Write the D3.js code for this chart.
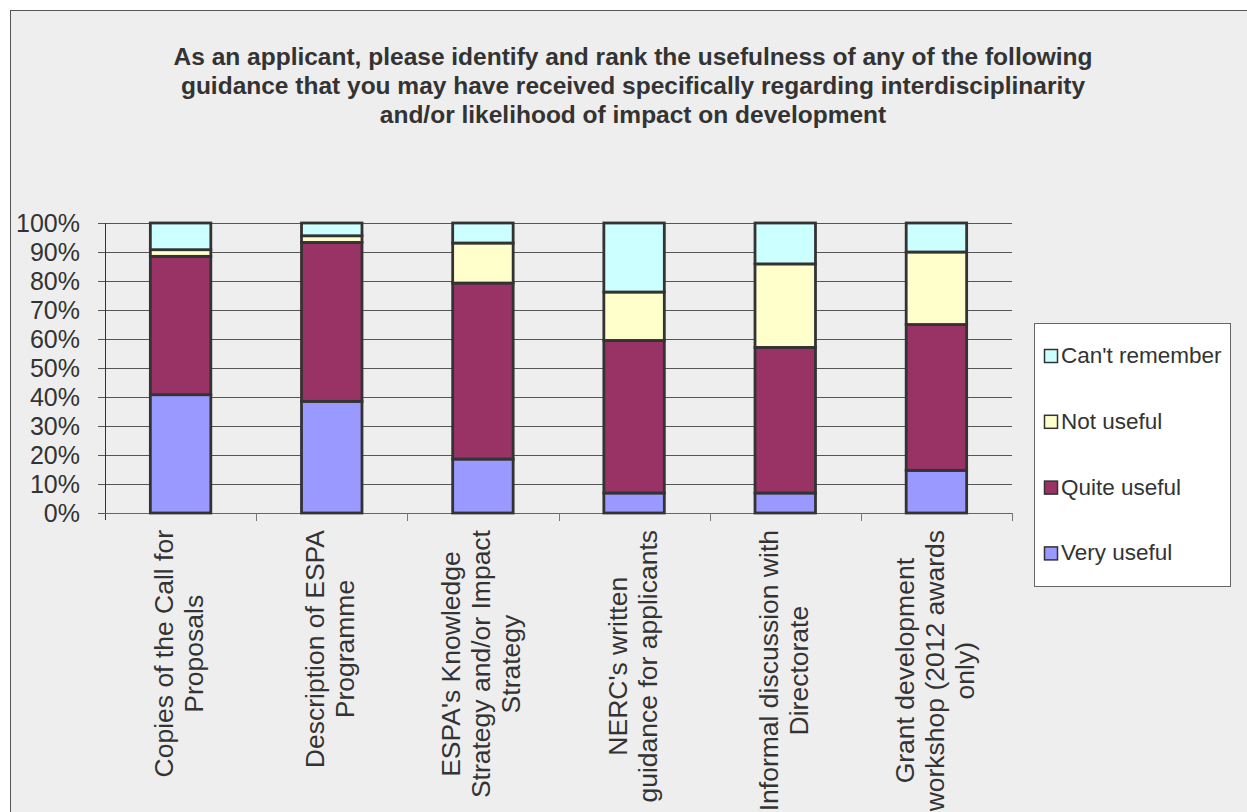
<!DOCTYPE html>
<html>
<head>
<meta charset="utf-8">
<script src="https://cdn.jsdelivr.net/npm/d3@7"></script>
<style>
  body { margin: 0; background: #fff; }
  svg { display: block; font-family: "Liberation Sans", Arial, sans-serif; }
</style>
</head>
<body>
<svg id="chart" width="1247" height="812"></svg>
<script>
// data (percent of respondents)
const categories = [
  ["Copies of the Call for", "Proposals"],
  ["Description of ESPA", "Programme"],
  ["ESPA's Knowledge", "Strategy and/or Impact", "Strategy"],
  ["NERC's written", "guidance for applicants"],
  ["Informal discussion with", "Directorate"],
  ["Grant development", "workshop (2012 awards", "only)"]
];
const veryUseful = [40.8, 38.5, 18.6, 6.9, 6.9, 14.7];
const quiteUseful = [47.7, 54.8, 60.7, 52.6, 50.2, 50.3];
const notUseful = [2.3, 2.3, 13.8, 16.7, 28.8, 25.0];
const cantRemember = [9.2, 4.4, 6.9, 23.8, 14.1, 10.0];
const seriesNames = ["Very useful", "Quite useful", "Not useful", "Can't remember"];
const seriesColors = ["#9999ff", "#993366", "#ffffcc", "#ccffff"];
const yTicks = [0, 10, 20, 30, 40, 50, 60, 70, 80, 90, 100];
const titleLines = [
  "As an applicant, please identify and rank the usefulness of any of the following",
  "guidance that you may have received specifically regarding interdisciplinarity",
  "and/or likelihood of impact on development"
];

const svg = d3.select('#chart');

// chart frame
svg.append('rect')
  .attr('x', 10.5).attr('y', 10.5)
  .attr('width', 1400).attr('height', 1000)
  .attr('fill', '#eeeeee').attr('stroke', '#555');

// title
svg.append('text')
  .attr('x', 633).attr('y', 65)
  .attr('text-anchor', 'middle')
  .attr('font-size', 24.5).attr('font-weight', 'bold').attr('fill', '#333')
  .selectAll('tspan').data(titleLines).enter().append('tspan')
  .attr('x', 633).attr('dy', (d, i) => i === 0 ? 0 : 29)
  .text(d => d);

const plotLeft = 105, plotRight = 1012, plotTop = 223, plotBottom = 513;
const idx = categories.map((d, i) => i);

const x = d3.scaleBand().domain(idx).range([plotLeft, plotRight])
  .paddingInner(0.6).paddingOuter(0.3);
const y = d3.scaleLinear().domain([0, 100]).range([plotBottom, plotTop]);

// gridlines
svg.append('g').selectAll('line').data(yTicks).enter().append('line')
  .attr('x1', plotLeft - 7).attr('x2', plotRight)
  .attr('y1', d => Math.round(y(d)) + 0.5).attr('y2', d => Math.round(y(d)) + 0.5)
  .attr('stroke', '#555').attr('stroke-width', 1);

// y axis labels
svg.append('g').selectAll('text').data(yTicks).enter().append('text')
  .attr('x', 80).attr('y', d => y(d))
  .attr('dy', '0.36em')
  .attr('text-anchor', 'end')
  .attr('font-size', 25).attr('fill', '#333')
  .text(d => d + '%');

// axis lines
svg.append('line')
  .attr('x1', plotLeft + 0.5).attr('x2', plotLeft + 0.5)
  .attr('y1', plotTop).attr('y2', plotBottom + 7)
  .attr('stroke', '#333');
svg.append('line')
  .attr('x1', plotLeft).attr('x2', plotRight)
  .attr('y1', plotBottom + 0.5).attr('y2', plotBottom + 0.5)
  .attr('stroke', '#666');
const step = x.step();
svg.append('g').selectAll('line').data(d3.range(1, categories.length + 1)).enter().append('line')
  .attr('x1', d => Math.round(plotLeft + d * step) + 0.5)
  .attr('x2', d => Math.round(plotLeft + d * step) + 0.5)
  .attr('y1', plotBottom).attr('y2', plotBottom + 8)
  .attr('stroke', '#777');

// stacked bars
const table = idx.map(i => ({
  i: i,
  "Very useful": veryUseful[i],
  "Quite useful": quiteUseful[i],
  "Not useful": notUseful[i],
  "Can't remember": cantRemember[i]
}));
const stacked = d3.stack().keys(seriesNames)(table);
const color = d3.scaleOrdinal().domain(seriesNames).range(seriesColors);

svg.append('g').selectAll('g').data(stacked).enter().append('g')
  .attr('fill', d => color(d.key))
  .selectAll('rect').data(d => d).enter().append('rect')
  .attr('x', d => x(d.data.i))
  .attr('y', d => y(d[1]))
  .attr('width', x.bandwidth())
  .attr('height', d => y(d[0]) - y(d[1]))
  .attr('stroke', '#333').attr('stroke-width', 2.8);

// category labels, rotated, lines centred on each other
const labelSize = 26.5, lineGap = 30, labelTop = 530;
const labels = svg.append('g');
categories.forEach((lines, i) => {
  const cx = x(i) + x.bandwidth() / 2;
  const g = labels.append('g');
  const texts = lines.map((line, j) => g.append('text')
    .attr('font-size', labelSize).attr('fill', '#333')
    .attr('text-anchor', 'middle')
    .text(line));
  const maxLen = d3.max(texts, t => t.node().getComputedTextLength());
  const cy = labelTop + maxLen / 2;
  texts.forEach((t, j) => {
    const bx = cx + 7.5 + (j - (lines.length - 1) / 2) * lineGap;
    t.attr('transform', `translate(${bx},${cy}) rotate(-90)`);
  });
});

// legend
const legend = svg.append('g');
legend.append('rect')
  .attr('x', 1034.5).attr('y', 323.5).attr('width', 196).attr('height', 263)
  .attr('fill', '#fff').attr('stroke', '#666');
const legendOrder = seriesNames.slice().reverse();
const item = legend.selectAll('g.item').data(legendOrder).enter().append('g')
  .attr('class', 'item')
  .attr('transform', (d, i) => `translate(0,${363 + i * 65.8})`);
item.append('rect')
  .attr('x', 1044.5).attr('y', -13.5).attr('width', 13).attr('height', 13)
  .attr('fill', d => color(d)).attr('stroke', '#333').attr('stroke-width', 1.5);
item.append('text')
  .attr('x', 1061).attr('y', 0)
  .attr('font-size', 22.5).attr('fill', '#333')
  .text(d => d);
</script>
</body>
</html>
